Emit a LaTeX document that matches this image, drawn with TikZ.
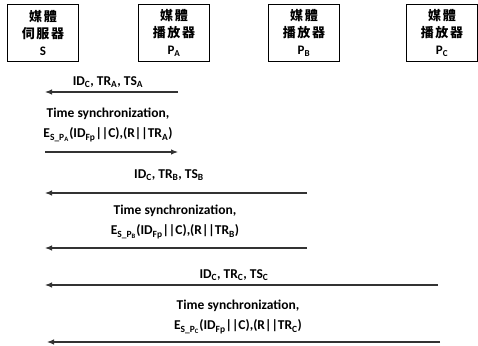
\documentclass[tikz,border=0pt]{standalone}
\usepackage{fontspec}
\setmainfont{Carlito}
\newfontfamily\cjk[LetterSpace=12]{Noto Sans CJK TC}
\usetikzlibrary{arrows.meta, positioning}

\begin{document}
\begin{tikzpicture}[x=1pt, y=-1pt,
  every node/.style={font=\bfseries\fontsize{13.5}{20}\selectfont},
  entity/.style={draw, line width=1pt, minimum width=71pt, minimum height=57pt,
    align=center, inner sep=0pt, font=\bfseries\fontsize{13}{17}\selectfont},
  msg/.style={line width=1.1pt, draw=black!80, -{Latex[length=7pt,width=5.5pt]}},
  lbl/.style={align=center, inner sep=0pt}]
\useasboundingbox (0,0) rectangle (478,345);
\node[entity] (srv) at (43,33) {{\cjk 媒體}\\{\cjk 伺服器}\\S};
\node[entity] (pa) at (174,33) {{\cjk 媒體}\\{\cjk 播放器}\\P\textsubscript{A}};
\node[entity] (pb) at (304,33) {{\cjk 媒體}\\{\cjk 播放器}\\P\textsubscript{B}};
\node[entity] (pc) at (442,33) {{\cjk 媒體}\\{\cjk 播放器}\\P\textsubscript{C}};

\node[lbl] (m1) at (108,82) {ID\textsubscript{C}, TR\textsubscript{A}, TS\textsubscript{A}};
\node[lbl] (m2) at (108,125) {Time synchronization,\\
  E\textsubscript{S\_P\textsubscript{A}}(ID\textsubscript{Fp}||C),(R||TR\textsubscript{A})};
\node[lbl] (m3) at (169,175) {ID\textsubscript{C}, TR\textsubscript{B}, TS\textsubscript{B}};
\node[lbl] (m4) at (175,222) {Time synchronization,\\
  E\textsubscript{S\_P\textsubscript{B}}(ID\textsubscript{Fp}||C),(R||TR\textsubscript{B})};
\node[lbl] (m5) at (234,275) {ID\textsubscript{C}, TR\textsubscript{C}, TS\textsubscript{C}};
\node[lbl] (m6) at (238,317) {Time synchronization,\\
  E\textsubscript{S\_P\textsubscript{C}}(ID\textsubscript{Fp}||C),(R||TR\textsubscript{C})};

\draw[msg] ([xshift=4pt]pa |- 0,92) -- ([xshift=2pt]srv |- 0,92);
\draw[msg] ([xshift=2pt]srv |- 0,152) -- ([xshift=4pt]pa |- 0,152);
\draw[msg] ([xshift=3pt]pb |- 0,193) -- ([xshift=2pt]srv |- 0,193);
\draw[msg] ([xshift=3pt]pb |- 0,248) -- ([xshift=2pt]srv |- 0,248);
\draw[msg] ([xshift=-4pt]pc |- 0,285) -- ([xshift=2pt]srv |- 0,285);
\draw[msg] ([xshift=-2pt]pc |- 0,342) -- ([xshift=4pt]srv |- 0,342);
\end{tikzpicture}
\end{document}
